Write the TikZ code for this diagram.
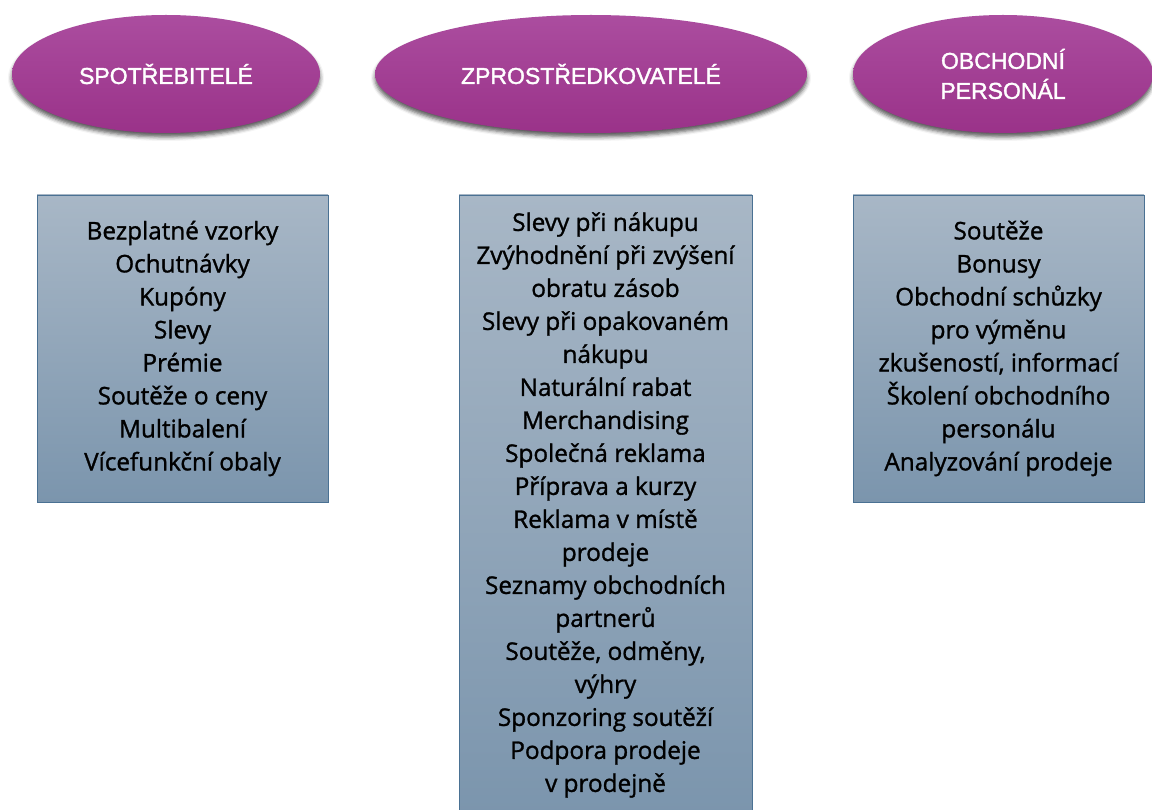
\documentclass[tikz,border=0pt]{standalone}
\usepackage{fontspec}
\setmainfont{Open Sans}
\newfontfamily\itemfont{Open Sans}[FakeBold=1.2]
\newfontfamily\headfont{Liberation Sans}[FakeBold=1.6]
\usetikzlibrary{shapes.geometric,shadows.blur}

\definecolor{plumtop}{HTML}{AB4D9F}
\definecolor{plummid}{HTML}{A43394}
\definecolor{plumbot}{HTML}{9A3289}
\definecolor{slatetop}{HTML}{A8B7C6}
\definecolor{slatebot}{HTML}{7B95AD}
\definecolor{slateedge}{HTML}{4A7193}

\tikzset{
  group/.style={ellipse, inner sep=0pt, minimum width=308pt, minimum height=118pt,
    top color=plumtop, middle color=plummid, bottom color=plumbot,
    text=white, align=center, font=\headfont\fontsize{23}{30}\selectfont,
    blur shadow={shadow xshift=0pt, shadow yshift=-4pt, shadow blur radius=4pt, shadow opacity=65}},
  itembox/.style={rectangle, draw=slateedge, line width=0.8pt, inner sep=0pt,
    top color=slatetop, bottom color=slatebot, text=black, align=center,
    font=\itemfont\fontsize{24.3}{33}\selectfont}
}

\begin{document}
\begin{tikzpicture}[x=1pt, y=-1pt]
  \useasboundingbox (0,0) rectangle (1152,810);
  \clip (0,0) rectangle (1152,810);

  % target groups
  \node[group] (consumers) at (166,74) {SPOTŘEBITELÉ};
  \node[group, minimum width=432pt] (resellers) at (591,74) {ZPROSTŘEDKOVATELÉ};
  \node[group, minimum width=300pt] (salesstaff) at (1003,74) {OBCHODNÍ\\PERSONÁL};

  % promotion tools for each group
  \node[itembox, minimum width=291pt, minimum height=307pt] (consumertools) at (182.5,348.5)
    {Bezplatné vzorky\\Ochutnávky\\Kupóny\\Slevy\\Prémie\\Soutěže o ceny\\Multibalení\\Vícefunkční obaly};

  \node[itembox, minimum width=293pt, minimum height=620pt] (resellertools) at (605.5,505)
    {Slevy při nákupu\\Zvýhodnění při zvýšení\\obratu zásob\\Slevy při opakovaném\\nákupu\\Naturální rabat\\Merchandising\\Společná reklama\\Příprava a kurzy\\Reklama v místě\\prodeje\\Seznamy obchodních\\partnerů\\Soutěže, odměny,\\výhry\\Sponzoring soutěží\\Podpora prodeje\\v prodejně};

  \node[itembox, minimum width=291pt, minimum height=307pt] (stafftools) at (998.5,348.5)
    {Soutěže\\Bonusy\\Obchodní schůzky\\pro výměnu\\zkušeností, informací\\Školení obchodního\\personálu\\Analyzování prodeje};
\end{tikzpicture}
\end{document}
